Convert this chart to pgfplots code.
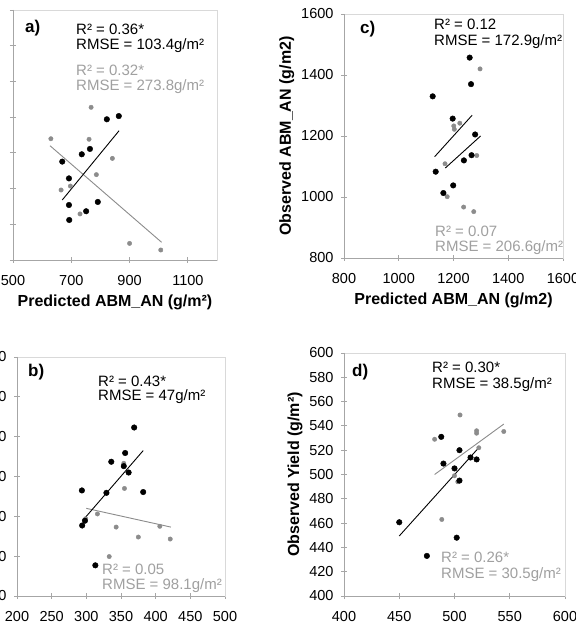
\documentclass[border=0pt]{standalone}
\usepackage{fontspec}
\setmainfont{Liberation Sans}
\usepackage{pgfplots}
\pgfplotsset{compat=1.18}
\definecolor{ptgray}{HTML}{8C8C8C}
\definecolor{txtgray}{HTML}{A0A0A0}
\definecolor{axgray}{HTML}{A6A6A6}
\definecolor{bordergray}{HTML}{D9D9D9}
\pgfplotsset{
 panel/.style={
  scale only axis, clip=false,
  axis line style={draw=bordergray, line width=0.9pt},
  tick align=center, major tick length=6pt, tick pos=left,
  every tick/.style={draw=axgray, line width=0.9pt},
  tick label style={font=\fontsize{14.5}{16}\selectfont},
  xticklabel style={yshift=-9pt},
  yticklabel style={xshift=-4pt},
  label style={font=\bfseries\fontsize{16}{18}\selectfont},
  xlabel style={yshift=-2pt},
  /pgf/number format/assume math mode=true,
  /pgf/number format/set thousands separator={},
  scaled ticks=false,
 },
 blk/.style={only marks, mark=*, mark size=2.8pt, draw=black, fill=black},
 gry/.style={only marks, mark=*, mark size=2.2pt, draw=ptgray, fill=ptgray},
 fitb/.style={no marks, black, line width=0.9pt},
 fitg/.style={no marks, ptgray, line width=0.9pt},
}
\newcommand{\lframe}{\draw[axgray, line width=0.9pt] (rel axis cs:0,1) -- (rel axis cs:0,0) -- (rel axis cs:1,0);}
\begin{document}
\begin{tikzpicture}
\useasboundingbox (0pt,0pt) rectangle (576pt,627pt);
\clip (0pt,0pt) rectangle (576pt,627pt);
\fill[white] (0pt,0pt) rectangle (576pt,627pt);
% ---------------- panel a
\begin{axis}[panel, at={(13pt,367pt)}, anchor=south west, width=204pt, height=250pt,
  xmin=500, xmax=1200, xtick={500,700,900,1100},
  ymin=0, ymax=1400, ytick={0,200,...,1400},
  yticklabel style={xshift=-5pt},
  xlabel={Predicted ABM\_AN (g/m²)}]
\lframe
\addplot[fitg] coordinates {(627,640) (1010,99)};
\addplot[fitb] coordinates {(669,336) (864,724)};
\addplot[gry] coordinates {(630,679) (665,392) (697,414) (730,258) (761,676) (768,855) (786,478) (841,569) (900,93) (1007,56)};
\addplot[blk] coordinates {(669,551) (692,457) (692,308) (693,224) (736,592) (751,273) (764,622) (791,325) (822,788) (863,806)};
\end{axis}
% ---------------- panel c
\begin{axis}[panel, at={(344pt,369pt)}, anchor=south west, width=219pt, height=244pt,
  xmin=800, xmax=1600, xtick={800,1000,...,1600},
  ymin=800, ymax=1600, ytick={800,1000,...,1600},
  xlabel={Predicted ABM\_AN (g/m2)}, ylabel={Observed ABM\_AN (g/m2)}]
\lframe
\addplot[fitb] coordinates {(1131,1132) (1268,1268)};
\addplot[fitb] coordinates {(1170,1095) (1299,1200)};
\addplot[gry] coordinates {(1169,1109) (1177,1001) (1201,1233) (1203,1222) (1223,1242) (1237,967) (1274,952) (1285,1136) (1297,1420)};
\addplot[blk] coordinates {(1124,1330) (1135,1083) (1163,1013) (1197,1257) (1199,1038) (1238,1120) (1259,1457) (1264,1370) (1266,1137) (1279,1205)};
\end{axis}
% ---------------- panel b
\begin{axis}[panel, at={(17pt,31pt)}, anchor=south west, width=208pt, height=239pt,
  xmin=200, xmax=500, xtick={200,250,...,500},
  ymin=200, ymax=800, ytick={200,300,...,800}]
\lframe
\addplot[fitg] coordinates {(300,420) (422,373)};
\addplot[fitb] coordinates {(295,390) (382,565)};
\addplot[gry] coordinates {(299,394) (316,406) (333,299) (343,373) (354,533) (355,470) (375,348) (406,375) (421,343)};
\addplot[blk] coordinates {(293.6,465) (294,377) (298,389) (313,277) (329,459) (336,537) (354,526) (356,559) (361,510) (369,623) (382,461)};
\end{axis}
% ---------------- panel d
\begin{axis}[panel, at={(344pt,31pt)}, anchor=south west, width=221pt, height=243pt,
  xmin=400, xmax=600, xtick={400,450,...,600},
  ymin=400, ymax=600, ytick={400,420,...,600},
  ylabel={Observed Yield (g/m²)}]
\lframe
\addplot[fitg] coordinates {(482,500) (544.6,541.5)};
\addplot[fitb] coordinates {(450,449.4) (520.8,520.9)};
\addplot[gry] coordinates {(482,529) (488.5,463) (500,499) (503,494) (505,549) (520,536) (520,534) (522,522) (544.6,535.4)};
\addplot[blk] coordinates {(450,460.7) (475,433) (488,531) (490,509) (500,505) (502,448) (504.5,520) (504.5,495) (514.5,514) (520,512.4)};
\end{axis}
% ---------------- annotations
\begin{scope}[every node/.style={anchor=west, inner sep=0pt, font=\fontsize{15}{17}\selectfont}]
\node[font=\bfseries\fontsize{17}{19}\selectfont] at (25pt,599pt) {a)};
\node at (76pt,598pt) {R² = 0.36*};
\node at (76pt,581pt) {RMSE = 103.4g/m²};
\node[text=txtgray] at (76pt,557pt) {R² = 0.32*};
\node[text=txtgray] at (76pt,540pt) {RMSE = 273.8g/m²};
\node[font=\bfseries\fontsize{17}{19}\selectfont] at (360pt,598pt) {c)};
\node at (434pt,603pt) {R² = 0.12};
\node at (434pt,585pt) {RMSE = 172.9g/m²};
\node[text=txtgray] at (435pt,396pt) {R² = 0.07};
\node[text=txtgray] at (435pt,379pt) {RMSE = 206.6g/m²};
\node[font=\bfseries\fontsize{17}{19}\selectfont] at (28pt,255pt) {b)};
\node at (98pt,246pt) {R² = 0.43*};
\node at (98pt,230pt) {RMSE = 47g/m²};
\node[text=txtgray] at (102pt,58pt) {R² = 0.05};
\node[text=txtgray] at (102pt,41pt) {RMSE = 98.1g/m²};
\node[font=\bfseries\fontsize{17}{19}\selectfont] at (352pt,255pt) {d)};
\node at (432pt,260pt) {R² = 0.30*};
\node at (432pt,242pt) {RMSE = 38.5g/m²};
\node[text=txtgray] at (441pt,70pt) {R² = 0.26*};
\node[text=txtgray] at (441pt,52pt) {RMSE = 30.5g/m²};
\end{scope}
\end{tikzpicture}
\end{document}
